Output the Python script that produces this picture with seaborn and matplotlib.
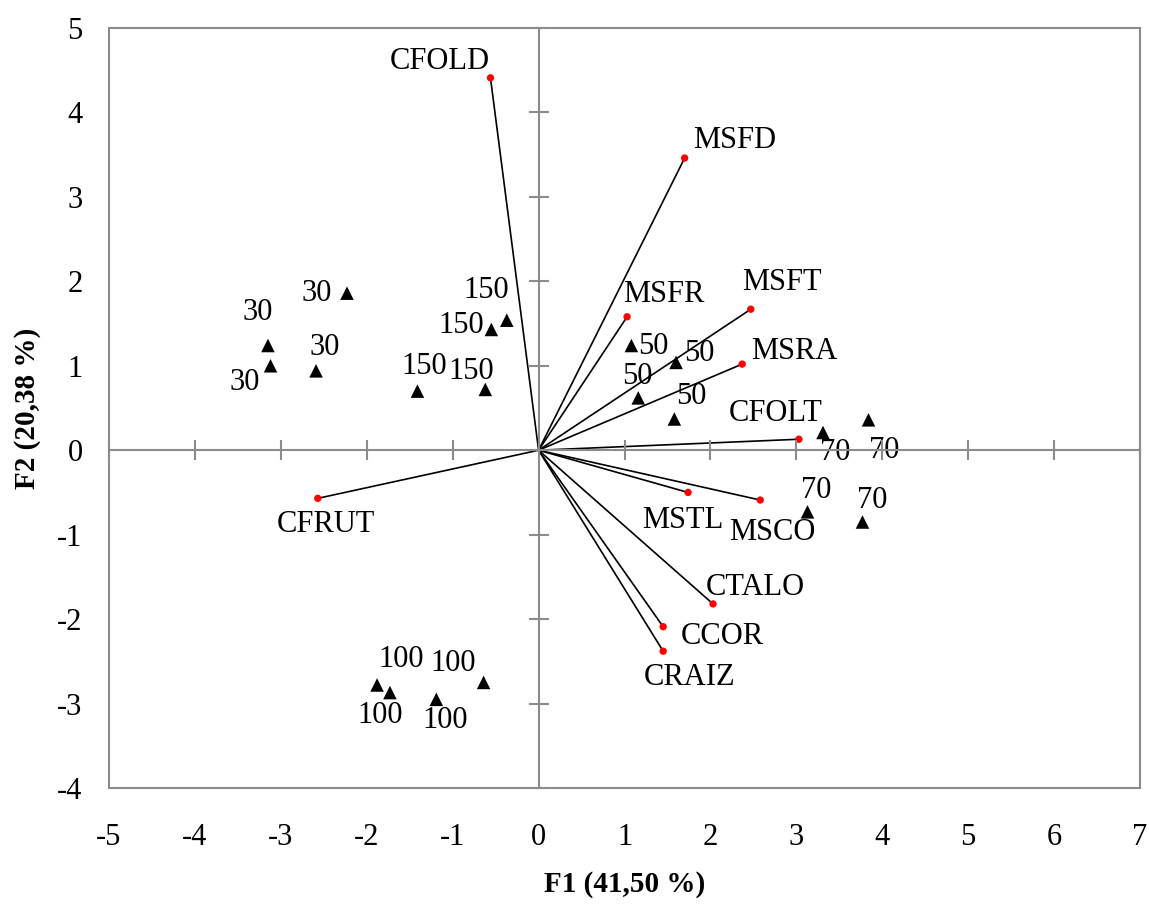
import numpy as np
import pandas as pd

import matplotlib
matplotlib.use("Agg")
import matplotlib.pyplot as plt
import seaborn as sns

sns.set_style("white")
plt.rcParams["font.family"] = ["Liberation Serif", "DejaVu Serif"]
plt.rcParams["axes.unicode_minus"] = False
plt.rcParams["text.color"] = "black"
plt.rcParams["axes.labelcolor"] = "black"
plt.rcParams["xtick.color"] = "black"
plt.rcParams["ytick.color"] = "black"

# variables (loadings), drawn as vectors from the origin
var_names = ["CFOLD", "MSFD", "MSFT", "MSFR", "MSRA", "CFOLT",
             "MSTL", "MSCO", "CTALO", "CCOR", "CRAIZ", "CFRUT"]
var_f1 = [-0.56, 1.70, 2.47, 1.03, 2.37, 3.03, 1.74, 2.58, 2.03, 1.45, 1.45, -2.57]
var_f2 = [4.41, 3.46, 1.67, 1.58, 1.02, 0.13, -0.50, -0.59, -1.82, -2.09, -2.38, -0.57]

# observations (treatments)
obs_labels = ["30", "30", "30", "30",
              "150", "150", "150", "150",
              "50", "50", "50", "50",
              "70", "70", "70", "70",
              "100", "100", "100", "100"]
obs_f1 = [-2.23, -3.15, -3.12, -2.59,
          -0.37, -0.55, -1.41, -0.62,
          1.08, 1.60, 1.16, 1.58,
          3.31, 3.84, 3.13, 3.77,
          -1.88, -1.73, -1.19, -0.64]
obs_f2 = [1.86, 1.24, 1.00, 0.94,
          1.54, 1.43, 0.70, 0.72,
          1.24, 1.04, 0.62, 0.37,
          0.21, 0.36, -0.73, -0.85,
          -2.78, -2.87, -2.95, -2.75]

# label offsets in pixels (dx right, dy down)
var_off = [(-51, -16), (50, -18), (31, -27), (37, -22), (52, -13), (-23, -26),
           (-5, 28), (12, 32), (42, -16), (59, 10), (26, 26), (8, 26)]
obs_off = [(-30, 0), (-10, -33), (-26, 17), (9, -23),
           (-21, -30), (-30, -4), (7, -25), (-14, -18),
           (22, 1), (23, -9), (-1, -21), (17, -22),
           (12, 20), (16, 31), (9, -21), (10, -22),
           (24, -25), (-10, 23), (9, 21), (-30, -19)]

variables = pd.DataFrame({"name": var_names, "F1": var_f1, "F2": var_f2})
observations = pd.DataFrame({"label": obs_labels, "F1": obs_f1, "F2": obs_f2})

fig = plt.figure(figsize=(11.49, 9.06), dpi=100)
pos = [109 / 1149, (906 - 788) / 906, (1140 - 109) / 1149, (788 - 28) / 906]
ax = fig.add_axes(pos)
grey = "#8c8c8c"

# zero axes with crossing ticks (Excel style)
ax0 = fig.add_axes(pos, sharex=ax, sharey=ax)
ax0.patch.set_visible(False)
ax0.spines["left"].set_position(("data", 0))
ax0.spines["bottom"].set_position(("data", 0))
ax0.spines["top"].set_visible(False)
ax0.spines["right"].set_visible(False)
for s in ["left", "bottom"]:
    ax0.spines[s].set_color(grey)
    ax0.spines[s].set_linewidth(1.5)
ax0.tick_params(bottom=True, left=True, direction="inout", length=14,
                width=1.5, color=grey, labelleft=False, labelbottom=False)

# vectors
for _, r in variables.iterrows():
    ax.plot([0, r["F1"]], [0, r["F2"]], color="black", linewidth=1.2, zorder=2)

sns.scatterplot(data=variables, x="F1", y="F2", color="red", s=28,
                edgecolor="none", ax=ax, zorder=3)
sns.scatterplot(data=observations, x="F1", y="F2", color="black", marker="^",
                s=95, edgecolor="none", ax=ax, zorder=3)

for (_, r), (dx, dy) in zip(variables.iterrows(), var_off):
    ax.annotate(r["name"], (r["F1"], r["F2"]), xytext=(dx, -dy),
                textcoords="offset pixels", ha="center", va="center",
                fontsize=22)
for (_, r), (dx, dy) in zip(observations.iterrows(), obs_off):
    ax.annotate(r["label"], (r["F1"], r["F2"]), xytext=(dx, -dy),
                textcoords="offset pixels", ha="center", va="center",
                fontsize=22)

ax.set_xlim(-5, 7)
ax.set_ylim(-4, 5)
ax.set_xticks(range(-5, 8))
ax.set_yticks(range(-4, 6))
ax.tick_params(axis="both", length=0, labelsize=22)
ax.tick_params(axis="x", pad=25)
ax.tick_params(axis="y", pad=19)
for s in ax.spines.values():
    s.set_color(grey)
    s.set_linewidth(1.5)

ax.set_xlabel("F1 (41,50 %)", fontsize=21, fontweight="bold", labelpad=14)
ax.set_ylabel("F2 (20,38 %)", fontsize=21, fontweight="bold", labelpad=12)

fig.savefig("out.png", dpi=100)
